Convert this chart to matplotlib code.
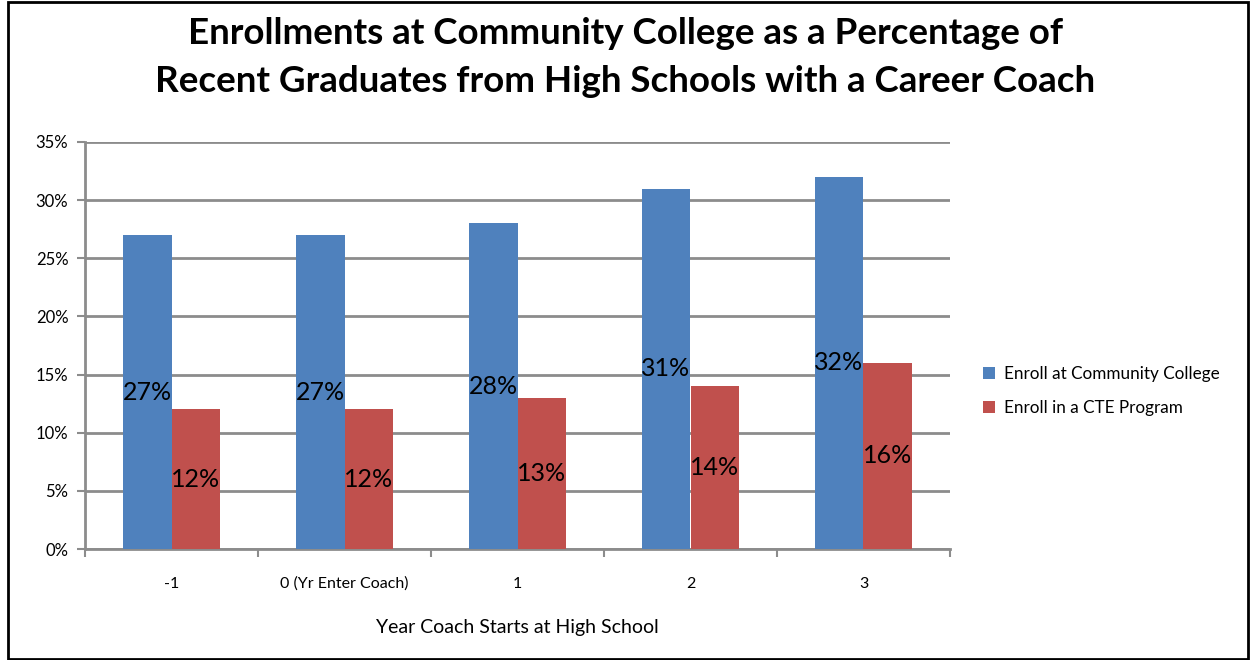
import matplotlib
matplotlib.use("Agg")
import matplotlib.pyplot as plt
from matplotlib.patches import Rectangle
import numpy as np

categories = ["-1", "0 (Yr Enter Coach)", "1", "2", "3"]
college = [27, 27, 28, 31, 32]
cte = [12, 12, 13, 14, 16]
series_names = ["Enroll at Community College", "Enroll in a CTE Program"]
yticks = [0, 5, 10, 15, 20, 25, 30, 35]

plt.rcParams['font.family'] = ['Lato', 'DejaVu Sans']

fig = plt.figure(figsize=(12.51, 6.6), dpi=100)
ax = fig.add_axes([85/1251, 1-549/660, 865/1251, 407/660])

x = np.arange(len(categories))
w = 0.283
b1 = ax.bar(x - w/2, college, w, color="#4F81BD", label=series_names[0], zorder=3)
b2 = ax.bar(x + w/2, cte, w, color="#C0504D", label=series_names[1], zorder=3)

for bars, vals in ((b1, college), (b2, cte)):
    for r, v in zip(bars, vals):
        ax.text(r.get_x() + r.get_width()/2, v/2, f"{v}%", ha="center", va="center",
                fontsize=18, color="black", zorder=4)

ax.set_xlim(-0.5, len(categories) - 0.5)
ax.set_ylim(0, 35)
ax.set_yticks(yticks)
ax.set_yticklabels([f"{t}%" for t in yticks], fontsize=12)
ax.yaxis.grid(True, color="#8c8c8c", linewidth=2, zorder=0)
ax.set_axisbelow(True)

ax.set_xticks(x)
ax.set_xticklabels(categories, fontsize=11.5)
ax.tick_params(axis="x", length=0, pad=20)
ax.set_xticks(np.arange(-0.5, len(categories), 1), minor=True)
ax.tick_params(axis="x", which="minor", length=6, width=1.5, color="#8c8c8c", direction="out")
ax.tick_params(axis="y", length=6, width=1.5, color="#8c8c8c", direction="out", pad=6)

for s in ("top", "right"):
    ax.spines[s].set_visible(False)
for s in ("left", "bottom"):
    ax.spines[s].set_color("#8c8c8c")
    ax.spines[s].set_linewidth(2)

ax.set_xlabel("Year Coach Starts at High School", fontsize=14, labelpad=20)

fig.text(0.5, 1-33/660, "Enrollments at Community College as a Percentage of",
         ha="center", va="center", fontsize=26.5, fontweight="bold")
fig.text(0.5, 1-81/660, "Recent Graduates from High Schools with a Career Coach",
         ha="center", va="center", fontsize=26.5, fontweight="bold")

leg = fig.legend(handles=[b1, b2], labels=series_names, loc="center left",
                 bbox_to_anchor=(968/1251, 1-391/660), frameon=False, fontsize=12.3,
                 handlelength=0.7, handleheight=0.7, handletextpad=0.5, labelspacing=1.1)

fig.add_artist(Rectangle((8/1251, 1/660), 1240/1251, 657/660, transform=fig.transFigure,
                         fill=False, edgecolor="black", linewidth=2))

fig.savefig("out.png", dpi=100)
